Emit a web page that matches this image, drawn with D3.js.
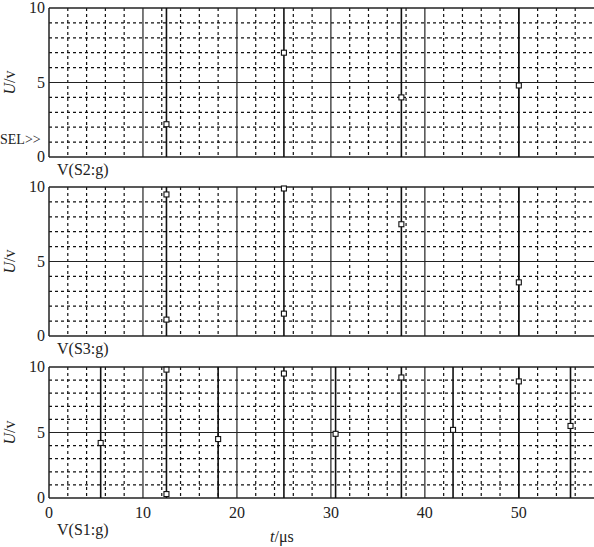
<!DOCTYPE html>
<html><head><meta charset="utf-8">
<script src="https://cdn.jsdelivr.net/npm/d3@7"></script>
<style>body{margin:0;background:#fff}text{font-family:"Liberation Serif",serif;fill:#222}</style>
</head><body>
<script>
// sample times (us) and voltages per trace
const topSpikes = [12.5, 25, 37.5, 50];
const topMarks = [[12.5, 2.2], [25, 7.0], [37.5, 4.0], [50, 4.8]];
const midSpikes = [12.5, 25, 37.5, 50];
const midMarks = [[12.5, 9.5], [12.5, 1.1], [25, 9.9], [25, 1.5], [37.5, 7.5], [50, 3.6]];
const botSpikes = [5.5, 12.5, 18, 25, 30.5, 37.5, 43, 50, 55.5];
const botMarks = [[5.5, 4.2], [12.5, 9.8], [12.5, 0.3], [18, 4.5], [25, 9.5], [30.5, 4.9],
                  [37.5, 9.2], [43, 5.2], [50, 8.9], [55.5, 5.5]];
const xTicks = [0, 10, 20, 30, 40, 50];
const yTicks = [0, 5, 10];

const W = 594, H = 547;
const svg = d3.select('body').append('svg').attr('width', W).attr('height', H);
const x = d3.scaleLinear().domain([0, 58]).range([49, 594]);

const panels = [
  {top: 8, bottom: 157, spikes: topSpikes, marks: topMarks, label: 'V(S2:g)', sel: true},
  {top: 187, bottom: 336, spikes: midSpikes, marks: midMarks, label: 'V(S3:g)'},
  {top: 367, bottom: 498, spikes: botSpikes, marks: botMarks, label: 'V(S1:g)', xaxis: true}
];

panels.forEach(function(p) {
  const y = d3.scaleLinear().domain([0, 10]).range([p.bottom, p.top]);
  const g = svg.append('g');
  // dashed grid
  d3.range(2, 58, 2).filter(v => v % 10 != 0).forEach(function(v) {
    g.append('line').attr('x1', x(v)).attr('x2', x(v)).attr('y1', p.top).attr('y2', p.bottom)
      .attr('stroke', '#111').attr('stroke-width', 1.2).attr('stroke-dasharray', '3,3');
  });
  d3.range(1, 10).filter(v => v != 5).forEach(function(v) {
    g.append('line').attr('x1', x(0)).attr('x2', W).attr('y1', y(v)).attr('y2', y(v))
      .attr('stroke', '#111').attr('stroke-width', 1.2).attr('stroke-dasharray', '3,3');
  });
  // solid grid
  [10, 20, 30, 40, 50].forEach(function(v) {
    g.append('line').attr('x1', x(v)).attr('x2', x(v)).attr('y1', p.top).attr('y2', p.bottom)
      .attr('stroke', '#222').attr('stroke-width', 1.2);
  });
  g.append('line').attr('x1', x(0)).attr('x2', W).attr('y1', y(5)).attr('y2', y(5))
    .attr('stroke', '#222').attr('stroke-width', 1.2);
  // frame
  g.append('line').attr('x1', x(0)).attr('x2', W).attr('y1', p.top).attr('y2', p.top).attr('stroke', '#222').attr('stroke-width', 1.5);
  g.append('line').attr('x1', x(0)).attr('x2', W).attr('y1', p.bottom).attr('y2', p.bottom).attr('stroke', '#222').attr('stroke-width', 1.5);
  g.append('line').attr('x1', x(0)).attr('x2', x(0)).attr('y1', p.top).attr('y2', p.bottom).attr('stroke', '#222').attr('stroke-width', 1.5);
  // spikes
  p.spikes.forEach(function(t) {
    g.append('line').attr('x1', x(t)).attr('x2', x(t)).attr('y1', y(0)).attr('y2', y(10))
      .attr('stroke', '#111').attr('stroke-width', 1.6);
  });
  // markers
  g.selectAll('rect.m').data(p.marks).enter().append('rect')
    .attr('x', d => x(d[0]) - 2.5).attr('y', d => y(d[1]) - 2.5)
    .attr('width', 5).attr('height', 5).attr('fill', '#fff').attr('stroke', '#111').attr('stroke-width', 1.1);
  // y ticks
  yTicks.forEach(function(v) {
    g.append('text').attr('x', 45).attr('y', y(v) + 5).attr('text-anchor', 'end')
      .attr('font-size', 16).text(v);
  });
  g.append('text').attr('transform', 'translate(15,' + ((p.top + p.bottom) / 2) + ') rotate(-90)')
    .attr('text-anchor', 'middle').attr('font-size', 16)
    .html('<tspan font-style="italic">U</tspan>/v');
  g.append('text').attr('x', 57).attr('y', p.bottom + (p.xaxis ? 37 : 18)).attr('font-size', 16).text(p.label);
  if (p.sel) {
    g.append('text').attr('x', 0).attr('y', y(1) + 2).attr('font-size', 14).text('SEL>>');
  }
  if (p.xaxis) {
    xTicks.forEach(function(v) {
      g.append('text').attr('x', x(v)).attr('y', p.bottom + 20).attr('text-anchor', 'middle')
        .attr('font-size', 16).text(v);
    });
  }
});

svg.append('text').attr('x', 270).attr('y', 542).attr('font-size', 16)
  .html('<tspan font-style="italic">t</tspan>/μs');
</script>
</body></html>
